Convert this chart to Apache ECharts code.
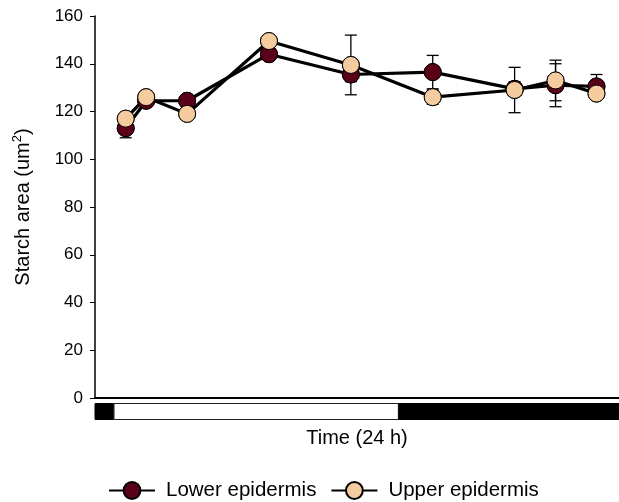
<!DOCTYPE html>
<html>
<head>
<meta charset="utf-8">
<script src="https://cdn.jsdelivr.net/npm/echarts@6/dist/echarts.min.js"></script>
<style>
  html, body { margin: 0; padding: 0; background: #fff; }
  #chart { width: 619px; height: 502px; }
</style>
</head>
<body>
<div id="chart"></div>
<script>
// Sampling times (h) and starch area means / error (um^2)
const sampleTimes = [1.5, 2.5, 4.5, 8.5, 12.5, 16.5, 20.5, 22.5, 24.5];
const lowerMean = [113, 124.5, 124.5, 144, 135.5, 136.5, 129.5, 131, 130.5];
const lowerErr  = [4, 2, 2, 2, 3, 7, 3, 9, 5];
const upperMean = [117, 126, 119, 149.5, 139.5, 126, 129, 133, 127.5];
const upperErr  = [2, 2, 2, 2, 12.5, 3, 9.5, 8.5, 2];
const seriesNames = ['Lower epidermis', 'Upper epidermis'];
const yMin = 0, yMax = 160, yStep = 20;
const timeMin = 0, timeMax = 25.6;
// Light / dark periods along the time axis: [start, end, phase]
const photoperiod = [[0, 0.9, 'dark'], [0.9, 14.85, 'light'], [14.85, 25.6, 'dark']];

const lowerColor = '#5a0019';
const upperColor = '#f4cc9f';
const FONT = 'Liberation Sans, Arial, sans-serif';

function pairs(means, errs) {
  return sampleTimes.map((t, i) => [t, means[i], errs[i]]);
}

function errorBarItem(params, api) {
  const x = api.value(0), m = api.value(1), e = api.value(2);
  const top = api.coord([x, m + e]);
  const bot = api.coord([x, m - e]);
  const hw = 6;
  const style = { stroke: '#000', lineWidth: 1.3 };
  return {
    type: 'group',
    children: [
      { type: 'line', shape: { x1: top[0], y1: top[1], x2: bot[0], y2: bot[1] }, style },
      { type: 'line', shape: { x1: top[0] - hw, y1: top[1], x2: top[0] + hw, y2: top[1] }, style },
      { type: 'line', shape: { x1: bot[0] - hw, y1: bot[1], x2: bot[0] + hw, y2: bot[1] }, style }
    ]
  };
}

function periodItem(params, api) {
  const s = api.coord([api.value(0), 0]);
  const e = api.coord([api.value(1), 0]);
  const h = 16;
  const y = params.coordSys.y;
  const dark = photoperiod[params.dataIndex][2] === 'dark';
  return {
    type: 'rect',
    shape: { x: s[0] + (dark ? 0 : 0.5), y: y + 0.5, width: e[0] - s[0] - (dark ? 0 : 1), height: h },
    style: dark ? { fill: '#000', stroke: '#000', lineWidth: 1 } : { fill: '#fff', stroke: '#222', lineWidth: 1.2 }
  };
}

const markerBase = {
  type: 'scatter',
  symbol: 'circle',
  symbolSize: 17,
  silent: true
};

const lineBase = {
  type: 'line',
  symbol: 'circle',
  symbolSize: 17,
  lineStyle: { color: '#000', width: 3.2 },
  z: 2,
  silent: true
};

const chart = echarts.init(document.getElementById('chart'), null, { renderer: 'canvas' });
chart.setOption({
  animation: false,
  backgroundColor: '#fff',
  textStyle: { fontFamily: FONT },
  grid: [
    { left: 95, right: 0, top: 16, bottom: 104, containLabel: false },
    { left: 95, right: 0, top: 403, height: 16 }
  ],
  xAxis: [
    {
      gridIndex: 0, type: 'value', min: timeMin, max: timeMax,
      name: 'Time (24 h)', nameLocation: 'middle', nameGap: 30,
      nameTextStyle: { fontSize: 20, color: '#000', fontFamily: FONT },
      axisLine: { show: true, lineStyle: { color: '#000', width: 2 } },
      axisTick: { show: false }, axisLabel: { show: false }, splitLine: { show: false }
    },
    {
      gridIndex: 1, type: 'value', min: timeMin, max: timeMax, show: false
    }
  ],
  yAxis: [
    {
      gridIndex: 0, type: 'value', min: yMin, max: yMax, interval: yStep,
      name: 'Starch area (um{sup|2})', nameLocation: 'middle', nameGap: 59, nameRotate: 90,
      nameTextStyle: {
        fontSize: 20, color: '#000', fontFamily: FONT,
        rich: { sup: { fontSize: 13, verticalAlign: 'top', padding: [0, 0, 12, 0], color: '#000', fontFamily: FONT } }
      },
      axisLine: { show: true, lineStyle: { color: '#000', width: 1.5 } },
      axisTick: { show: true, inside: false, length: 5, lineStyle: { color: '#000', width: 1 } },
      axisLabel: { fontSize: 17, color: '#000', margin: 12, fontFamily: FONT },
      splitLine: { show: false }
    },
    { gridIndex: 1, type: 'value', min: 0, max: 1, show: false }
  ],
  legend: {
    data: seriesNames,
    left: 103,
    top: 475,
    itemWidth: 46,
    itemHeight: 21,
    itemGap: 14,
    textStyle: { fontSize: 20.5, color: '#000', fontFamily: FONT, padding: [0, 0, 0, 6] }
  },
  series: [
    {
      type: 'custom', name: 'Lower error', renderItem: errorBarItem,
      data: pairs(lowerMean, lowerErr), encode: { x: 0, y: 1 }, z: 1, silent: true
    },
    {
      type: 'custom', name: 'Upper error', renderItem: errorBarItem,
      data: pairs(upperMean, upperErr), encode: { x: 0, y: 1 }, z: 1, silent: true
    },
    Object.assign({}, lineBase, {
      name: seriesNames[0],
      data: sampleTimes.map((t, i) => [t, lowerMean[i]]),
      itemStyle: { color: lowerColor, borderColor: '#000', borderWidth: 1 }
    }),
    Object.assign({}, lineBase, {
      name: seriesNames[1],
      data: sampleTimes.map((t, i) => [t, upperMean[i]]),
      itemStyle: { color: upperColor, borderColor: '#000', borderWidth: 1 }
    }),
    Object.assign({}, markerBase, {
      name: 'Lower markers', z: 3,
      data: sampleTimes.map((t, i) => [t, lowerMean[i]]),
      itemStyle: { color: lowerColor, borderColor: '#000', borderWidth: 1, opacity: 1 }
    }),
    Object.assign({}, markerBase, {
      name: 'Upper markers', z: 4,
      data: sampleTimes.map((t, i) => [t, upperMean[i]]),
      itemStyle: { color: upperColor, borderColor: '#000', borderWidth: 1, opacity: 1 }
    }),
    {
      type: 'custom', name: 'Photoperiod', xAxisIndex: 1, yAxisIndex: 1,
      renderItem: periodItem, silent: true,
      data: photoperiod.map(p => [p[0], p[1]]),
      encode: { x: [0, 1] }
    }
  ]
});
</script>
</body>
</html>
